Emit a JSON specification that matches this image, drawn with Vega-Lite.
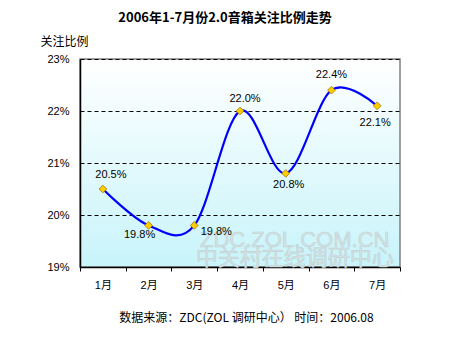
{
  "$schema": "https://vega.github.io/schema/vega-lite/v6.json",
  "autosize": "none",
  "width": 320,
  "height": 208,
  "padding": {"left": 80, "top": 59, "right": 50, "bottom": 70},
  "background": "white",
  "config": {
    "font": "Liberation Sans, Noto Sans CJK SC",
    "view": {
      "stroke": "#808080",
      "strokeWidth": 1.5,
      "fill": {
        "gradient": "linear",
        "x1": 0, "y1": 0, "x2": 0, "y2": 1,
        "stops": [
          {"offset": 0, "color": "#ffffff"},
          {"offset": 1, "color": "#c8f4fa"}
        ]
      }
    },
    "axis": {
      "labelFont": "Liberation Sans, Noto Sans CJK SC",
      "labelFontSize": 11,
      "labelColor": "#000000",
      "titleFont": "Noto Sans CJK SC",
      "titleFontWeight": "normal",
      "titleFontSize": 12,
      "titleColor": "#000000",
      "domainColor": "#000000",
      "domainWidth": 1.5,
      "tickColor": "#000000"
    }
  },
  "title": {
    "text": "2006年1-7月份2.0音箱关注比例走势",
    "font": "Noto Sans CJK SC",
    "fontSize": 13,
    "fontWeight": "bold",
    "color": "#000000",
    "anchor": "middle",
    "frame": "group",
    "dx": -15,
    "offset": 10
  },
  "data": {
    "values": [
      {"month": "1月", "v": 0.205},
      {"month": "2月", "v": 0.198},
      {"month": "3月", "v": 0.198},
      {"month": "4月", "v": 0.220},
      {"month": "5月", "v": 0.208},
      {"month": "6月", "v": 0.224},
      {"month": "7月", "v": 0.221}
    ]
  },
  "encoding": {
    "x": {
      "field": "month",
      "type": "ordinal",
      "sort": null,
      "scale": {"domain": ["1月", "2月", "3月", "4月", "5月", "6月", "7月"], "paddingInner": 0, "paddingOuter": 0},
      "axis": {
        "labelAngle": 0,
        "labelPadding": 8,
        "tickBand": "extent",
        "tickSize": 4,
        "grid": false,
        "title": "数据来源：ZDC(ZOL 调研中心）    时间：2006.08",
        "titleX": 166,
        "titleY": 50,
        "titleBaseline": "middle",
        "titleAnchor": "middle",
        "titleAlign": "center"
      }
    },
    "y": {
      "field": "v",
      "type": "quantitative",
      "scale": {"domain": [0.19, 0.23], "zero": false, "nice": false},
      "axis": {
        "format": ".0%",
        "values": [0.19, 0.20, 0.21, 0.22, 0.23],
        "ticks": false,
        "labelPadding": 11,
        "grid": true,
        "gridColor": "#000000",
        "gridDash": [4, 3],
        "gridWidth": 1,
        "title": "关注比例",
        "titleAngle": 0,
        "titleAlign": "left",
        "titleBaseline": "middle",
        "titleX": -40,
        "titleY": -18
      }
    }
  },
  "layer": [
    {
      "data": {
        "values": [
          {"month": "5月", "v": 0.1952, "wm": "ZDC.ZOL.COM.CN"},
          {"month": "5月", "v": 0.1917, "wm": "中关村在线调研中心"}
        ]
      },
      "mark": {"type": "text", "font": "Liberation Sans, Noto Sans CJK SC", "fontSize": 22, "dx": 9, "color": "#d4e2e4", "stroke": "#c2d2d4", "strokeWidth": 0.6},
      "encoding": {"text": {"field": "wm"}}
    },
    {
      "mark": {"type": "line", "interpolate": "cardinal", "tension": 0, "color": "#0000ff", "strokeWidth": 2.2}
    },
    {
      "mark": {"type": "point", "shape": "diamond", "filled": true, "size": 60, "color": "#ffcc00", "stroke": "#a07800", "strokeWidth": 0.8, "opacity": 1}
    },
    {
      "transform": [{"filter": "datum.month === '1月'"}],
      "mark": {"type": "text", "fontSize": 11, "dx": 8, "dy": -14, "color": "#000000"},
      "encoding": {"text": {"field": "v", "format": ".1%"}}
    },
    {
      "transform": [{"filter": "datum.month === '2月'"}],
      "mark": {"type": "text", "fontSize": 11, "dx": -9, "dy": 10, "color": "#000000"},
      "encoding": {"text": {"field": "v", "format": ".1%"}}
    },
    {
      "transform": [{"filter": "datum.month === '3月'"}],
      "mark": {"type": "text", "fontSize": 11, "dx": 22, "dy": 7, "color": "#000000"},
      "encoding": {"text": {"field": "v", "format": ".1%"}}
    },
    {
      "transform": [{"filter": "datum.month === '4月'"}],
      "mark": {"type": "text", "fontSize": 11, "dx": 5, "dy": -12, "color": "#000000"},
      "encoding": {"text": {"field": "v", "format": ".1%"}}
    },
    {
      "transform": [{"filter": "datum.month === '5月'"}],
      "mark": {"type": "text", "fontSize": 11, "dx": 3, "dy": 12, "color": "#000000"},
      "encoding": {"text": {"field": "v", "format": ".1%"}}
    },
    {
      "transform": [{"filter": "datum.month === '6月'"}],
      "mark": {"type": "text", "fontSize": 11, "dx": 0, "dy": -15, "color": "#000000"},
      "encoding": {"text": {"field": "v", "format": ".1%"}}
    },
    {
      "transform": [{"filter": "datum.month === '7月'"}],
      "mark": {"type": "text", "fontSize": 11, "dx": -2, "dy": 17, "color": "#000000"},
      "encoding": {"text": {"field": "v", "format": ".1%"}}
    }
  ]
}
